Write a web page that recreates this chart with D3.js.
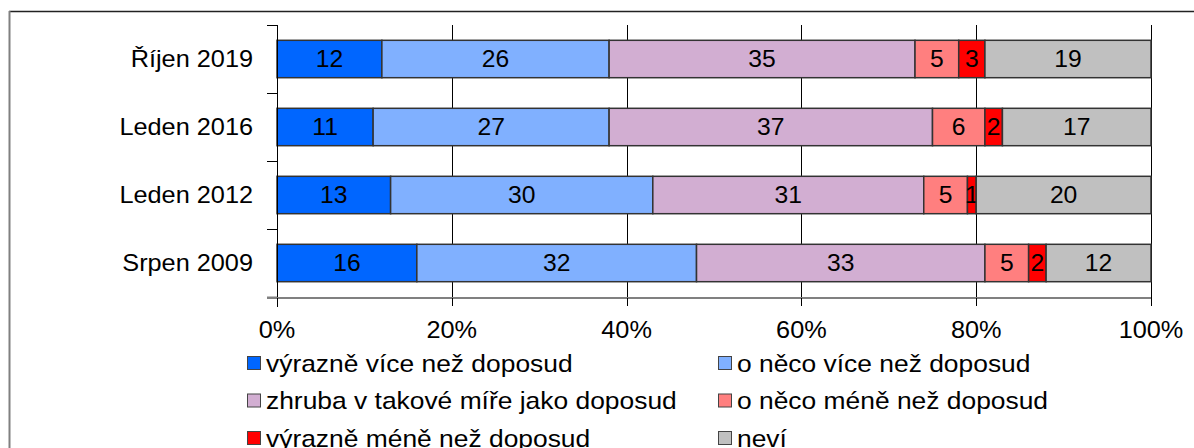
<!DOCTYPE html>
<html>
<head>
<meta charset="utf-8">
<script src="https://cdn.jsdelivr.net/npm/d3@7"></script>
<style>
    body { margin: 0; background: #fff; }
    text { font-family: "Liberation Sans", Arial, sans-serif; }
</style>
</head>
<body>
<div id="chart"></div>
<script>
// data
const categories = ["Říjen 2019", "Leden 2016", "Leden 2012", "Srpen 2009"];
const seriesNames = [
    "výrazně více než doposud",
    "o něco více než doposud",
    "zhruba v takové míře jako doposud",
    "o něco méně než doposud",
    "výrazně méně než doposud",
    "neví"
];
const seriesValues = [
    [12, 11, 13, 16],
    [26, 27, 30, 32],
    [35, 37, 31, 33],
    [5, 6, 5, 5],
    [3, 2, 1, 2],
    [19, 17, 20, 12]
];
const xTicks = [0, 20, 40, 60, 80, 100];
const colors = ["#0066ff", "#80b0ff", "#d2aed2", "#ff7f7f", "#ff0000", "#c0c0c0"];

const W = 1194, H = 448;
const stretch = 1.1; // the reference text is a bit wider than plain Arial

let svg = d3.select("#chart").append("svg")
    .attr("width", W)
    .attr("height", H);

// outer frame (cut off at bottom/right like the reference)
svg.append("line")
    .attr("x1", 9).attr("x2", W).attr("y1", 11.5).attr("y2", 11.5)
    .attr("stroke", "#222").attr("stroke-width", 1.5);
svg.append("line")
    .attr("x1", 9.5).attr("x2", 9.5).attr("y1", 11).attr("y2", H)
    .attr("stroke", "#808080").attr("stroke-width", 2);

let x = d3.scaleLinear()
    .domain([0, 100])
    .range([277, 1151]);

let y = d3.scaleBand()
    .domain(categories)
    .range([25, 297])
    .paddingInner(0.45)
    .paddingOuter(0.225);

let g = svg.append("g");

// vertical grid lines
g.selectAll(".grid")
    .data(xTicks.slice(1))
    .enter().append("line")
    .attr("class", "grid")
    .attr("x1", d => Math.round(x(d)) + 0.5)
    .attr("x2", d => Math.round(x(d)) + 0.5)
    .attr("y1", 25)
    .attr("y2", 298)
    .attr("stroke", "#000")
    .attr("stroke-width", 1);

// stacked data
let rows = categories.map((c, i) => {
    let r = {cat: c};
    seriesNames.forEach((s, j) => r[s] = seriesValues[j][i]);
    return r;
});
let stacked = d3.stack().keys(seriesNames)(rows);

let layers = g.selectAll(".layer")
    .data(stacked)
    .enter().append("g")
    .attr("class", "layer")
    .attr("fill", (d, i) => colors[i]);

layers.selectAll("rect")
    .data(d => d)
    .enter().append("rect")
    .attr("x", d => x(d[0]))
    .attr("y", d => y(d.data.cat))
    .attr("width", d => x(d[1]) - x(d[0]))
    .attr("height", y.bandwidth())
    .attr("stroke", "#333")
    .attr("stroke-width", 1.5);

layers.selectAll(".val")
    .data(d => d)
    .enter().append("text")
    .attr("class", "val")
    .attr("transform", d => `translate(${(x(d[0]) + x(d[1])) / 2}, ${y(d.data.cat) + y.bandwidth() / 2}) scale(1.05,1)`)
    .attr("dy", "0.36em")
    .attr("text-anchor", "middle")
    .attr("font-size", 23.5)
    .attr("fill", "#000")
    .text(d => d[1] - d[0]);

// y axis
let yAxisG = svg.append("g");
yAxisG.append("line")
    .attr("x1", 277.5).attr("x2", 277.5).attr("y1", 25).attr("y2", 307)
    .attr("stroke", "#000");
let yTickPos = d3.range(categories.length + 1).map(i => 25 + i * y.step());
yAxisG.selectAll(".ytick")
    .data(yTickPos)
    .enter().append("line")
    .attr("x1", 267).attr("x2", 277)
    .attr("y1", d => Math.round(d) + 0.5)
    .attr("y2", d => Math.round(d) + 0.5)
    .attr("stroke", (d, i) => i === categories.length ? "#808080" : "#000")
    .attr("stroke-width", (d, i) => i === categories.length ? 2 : 1);
yAxisG.selectAll(".ylab")
    .data(categories)
    .enter().append("text")
    .attr("transform", d => `translate(253, ${y(d) + y.bandwidth() / 2}) scale(${stretch},1)`)
    .attr("dy", "0.36em")
    .attr("text-anchor", "end")
    .attr("font-size", 23)
    .text(d => d);

// x axis
svg.append("line")
    .attr("x1", 267).attr("x2", 1151).attr("y1", 298).attr("y2", 298)
    .attr("stroke", "#808080").attr("stroke-width", 2);
svg.selectAll(".xtick")
    .data(xTicks)
    .enter().append("line")
    .attr("x1", d => Math.round(x(d)) + 0.5)
    .attr("x2", d => Math.round(x(d)) + 0.5)
    .attr("y1", 298).attr("y2", 306)
    .attr("stroke", "#000");
svg.selectAll(".xlab")
    .data(xTicks)
    .enter().append("text")
    .attr("transform", d => `translate(${x(d)}, 338) scale(${stretch},1)`)
    .attr("text-anchor", "middle")
    .attr("font-size", 23)
    .text(d => d + "%");

// legend
let legend = svg.append("g").attr("class", "legend");
let items = legend.selectAll(".item")
    .data(seriesNames)
    .enter().append("g")
    .attr("class", "item")
    .attr("transform", (d, i) => `translate(${i % 2 === 0 ? 247 : 718}, ${356 + Math.floor(i / 2) * 37.5})`);
items.append("rect")
    .attr("x", 0.5).attr("y", 0.5)
    .attr("width", 13).attr("height", 13)
    .attr("fill", (d, i) => colors[i])
    .attr("stroke", "#444");
items.append("text")
    .attr("transform", `translate(19, 7) scale(${stretch},1)`)
    .attr("dy", "0.36em")
    .attr("font-size", 24)
    .text(d => d);
</script>
</body>
</html>
